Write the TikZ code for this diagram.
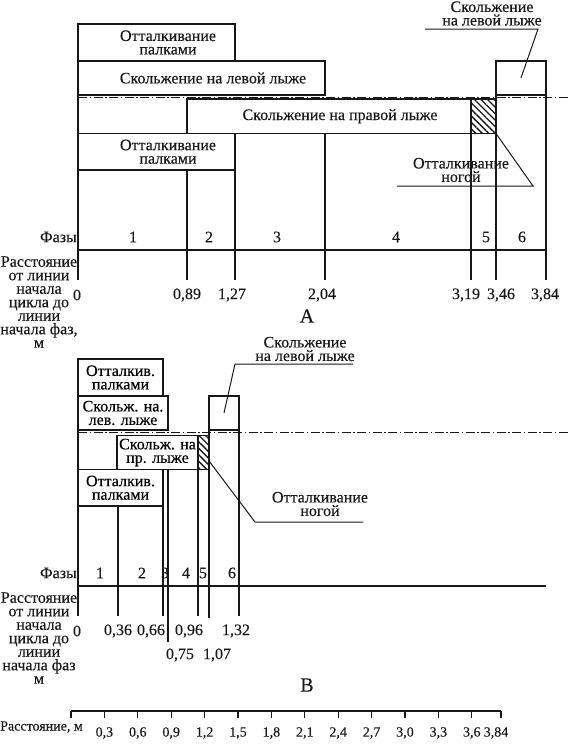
\documentclass[tikz,border=0pt]{standalone}
\usepackage{fontspec}
\setmainfont{Liberation Serif}[UprightFeatures={FakeBold=0.25}]
\usetikzlibrary{positioning,calc,patterns.meta}
\definecolor{Ink}{RGB}{24,24,24}
\tikzset{
  bar/.style={draw=Ink,line width=1.1pt,inner sep=0pt,outer sep=0pt,
    anchor=north west,align=center,font=\fontsize{16}{13.5}\selectfont},
  hatchbar/.style={bar,pattern={Lines[angle=-45,distance=4.6pt,line width=1.3pt]},
    pattern color=Ink},
  rule/.style={draw=Ink,line width=1.05pt},
  midline/.style={draw=Ink,line width=1pt,
    dash pattern=on 9pt off 2.5pt on 1.5pt off 2.5pt},
  leader/.style={draw=Ink,line width=1pt},
  txt/.style={font=\fontsize{16}{13.5}\selectfont,align=center,inner sep=0pt,text=Ink},
  num/.style={font=\fontsize{16}{16}\selectfont,inner sep=0pt,text=Ink},
  scalenum/.style={font=\fontsize{14}{14}\selectfont,inner sep=0pt,text=Ink},
  tag/.style={font=\fontsize{20}{20}\selectfont,inner sep=0pt,text=Ink}
}
\begin{document}
\begin{tikzpicture}[x=1pt,y=-1pt]
  \useasboundingbox (0,0) rectangle (570,744);

  % ---------- А ----------
  \node[bar,minimum width=157pt,minimum height=37pt] (poleA1) at (78,24) {};
  \node[bar,minimum width=247pt,minimum height=34pt] (leftA) at (poleA1.south west) {};
  \node[bar,minimum width=50pt,minimum height=34pt] (leftA2) at (496,61) {};
  \node[bar,minimum width=284pt,minimum height=34.5pt] (rightA) at (187,99) {};
  \node[hatchbar,right=0pt of rightA,minimum width=25pt,minimum height=34.5pt] (kickA) {};
  \node[bar,minimum width=157pt,minimum height=36.5pt] (poleA2) at (78,133.5) {};
  \node[txt] (poleA1t) at ([xshift=11.5pt]poleA1.center) {Отталкивание\\палками};
  \node[txt] (leftAt) at ([xshift=11.5pt]leftA.center) {Скольжение на левой лыже};
  \node[txt] (rightAt) at ([xshift=11pt]rightA.center) {Скольжение на правой лыже};
  \node[txt] (poleA2t) at ([xshift=11.5pt]poleA2.center) {Отталкивание\\палками};
  \draw[midline] (78,97) -- (570,97);
  \draw[rule] (78,24) -- (78,280);
  \foreach \x/\t in {187/170,235/170,325/133.5,471/133.5,496/95,546/95}
    \draw[rule] (\x,\t) -- (\x,280);
  \draw[rule] (78,250) -- (546,250);
  \node[num,anchor=east] (phA) at (77,237) {Фазы};
  \foreach \x/\n in {133/1,209/2,277/3,396/4,486/5,522/6}
    \node[num] (phA\n) at (\x,237) {\n};
  \foreach \x/\v [count=\i] in {77/0,187/{0,89},232/{1,27},322/{2,04},466/{3,19},501/{3,46},545/{3,84}}
    \node[num] (dA\i) at (\x,295) {\v};
  \node[txt] (distA) at (39,302) {Расстояние\\от линии\\начала\\цикла до\\линии\\начала фаз,\\м};
  \node[tag] (capA) at (307,316) {А};
  % callouts
  \node[txt] (glideTagA) at (492,13.5) {Скольжение\\на левой лыже};
  \coordinate (glideTagAl) at (425,29);
  \coordinate (glideTagAr) at (538,29);
  \draw[leader] (glideTagAl) -- (glideTagAr) -- (leftA2.center);
  \node[txt] (kickTagA) at (461,170) {Отталкивание\\ногой};
  \coordinate (kickTagAl) at (397,186);
  \coordinate (kickTagAr) at (533,186);
  \draw[leader] (kickTagAl) -- (kickTagAr) -- (kickA.south east);

  % ---------- В ----------
  \node[bar,minimum width=85pt,minimum height=37pt] (poleB1) at (78,359) {Отталкив.\\палками};
  \node[bar,minimum width=90pt,minimum height=34pt] (leftB) at (poleB1.south west) {Скольж. на.\\лев. лыже};
  \node[bar,minimum width=30pt,minimum height=34pt] (leftB2) at (209,396) {};
  \node[bar,minimum width=81pt,minimum height=34pt] (rightB) at (117,435.5) {Скольж. на\\пр. лыже};
  \node[hatchbar,right=0pt of rightB,minimum width=11pt,minimum height=34pt] (kickB) {};
  \node[bar,minimum width=85pt,minimum height=36.5pt] (poleB2) at (78,469.5) {Отталкив.\\палками};
  \draw[midline] (78,432) -- (570,432);
  \draw[rule] (78,359) -- (78,616);
  \foreach \x/\t/\b in {118/506/616,163/506/616,168/469.5/642,198/469.5/616,209/430/618,239/430/616}
    \draw[rule] (\x,\t) -- (\x,\b);
  \draw[rule] (78,586) -- (546,586);
  \node[num,anchor=east] (phB) at (77,573) {Фазы};
  \foreach \x/\n in {100/1,142/2,165/3,186/4,203/5,232/6}
    \node[num] (phB\n) at (\x,573) {\n};
  \foreach \x/\v [count=\i] in {77/0,118/{0,36},151/{0,66},189/{0,96},236/{1,32}}
    \node[num] (dB\i) at (\x,631) {\v};
  \node[num] (dB6) at (180,655) {0,75};
  \node[num] (dB7) at (217,655) {1,07};
  \node[txt] (distB) at (39,638) {Расстояние\\от линии\\начала\\цикла до\\линии\\начала фаз\\м};
  \node[tag] (capB) at (307,685) {В};
  % callouts
  \node[txt] (glideTagB) at (305,349) {Скольжение\\на левой лыже};
  \coordinate (glideTagBl) at (235,364);
  \coordinate (glideTagBr) at (353,364);
  \draw[leader] (glideTagBr) -- (glideTagBl) -- (leftB2.center);
  \node[txt] (kickTagB) at (320,504) {Отталкивание\\ногой};
  \coordinate (kickTagBl) at (255,522);
  \coordinate (kickTagBr) at (363,522);
  \draw[leader] (kickTagBr) -- (kickTagBl) -- ($(kickB.east)!0.5!(kickB.south east)$);

  % ---------- scale ----------
  \draw[rule] (71,711) -- (501,711);
  \foreach \i in {0,...,12}
    \draw[rule] (71+\i*33.4,711) -- ++(0,7);
  \draw[rule] (501,711) -- ++(0,7);
  \foreach \i/\v in {1/{0,3},2/{0,6},3/{0,9},4/{1,2},5/{1,5},6/{1,8},7/{2,1},8/{2,4},9/{2,7},10/{3,0},11/{3,3},12/{3,6}}
    \node[scalenum] (sc\i) at (71+\i*33.4,733) {\v};
  \node[scalenum] (sc13) at (496,733) {3,84};
  \node[scalenum,anchor=east] (scName) at (83,727) {Расстояние, м};
\end{tikzpicture}
\end{document}
